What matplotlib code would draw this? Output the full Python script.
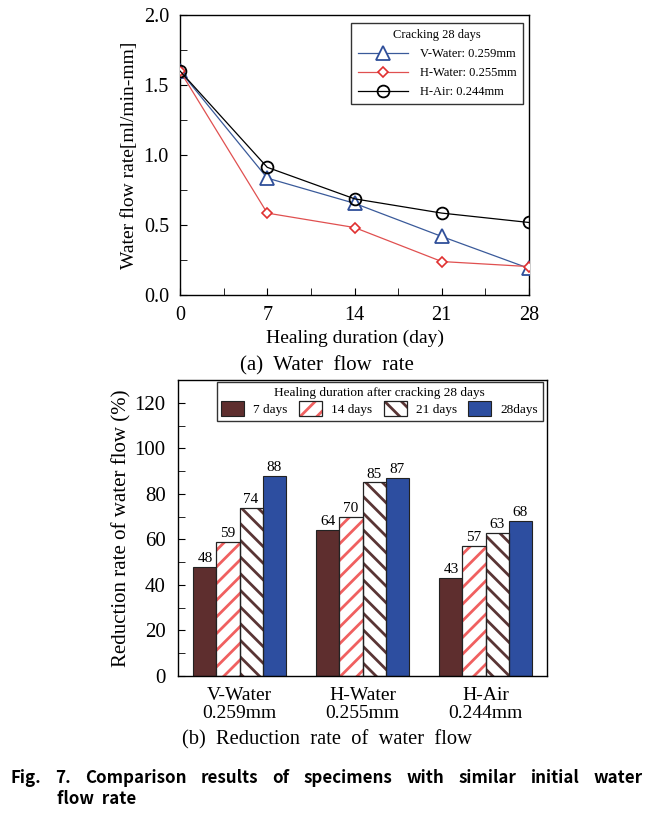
import matplotlib
matplotlib.use("Agg")
import matplotlib.pyplot as plt
import numpy as np
from matplotlib.legend_handler import HandlerTuple
from matplotlib.ticker import MultipleLocator

plt.rcParams['font.family'] = ['Liberation Serif', 'DejaVu Serif']
plt.rcParams['hatch.linewidth'] = 2.0

# ---- data (a) ----
days = [0, 7, 14, 21, 28]
v_water = [1.60, 0.835, 0.655, 0.418, 0.19]
h_water = [1.60, 0.585, 0.482, 0.239, 0.203]
h_air = [1.60, 0.912, 0.687, 0.585, 0.518]
line_labels = ["V-Water: 0.259mm", "H-Water: 0.255mm", "H-Air: 0.244mm"]

# ---- data (b) ----
groups = ["V-Water\n0.259mm", "H-Water\n0.255mm", "H-Air\n0.244mm"]
bar_labels = ["7 days", "14 days", "21 days", "28days"]
d7 = [48, 64, 43]
d14 = [59, 70, 57]
d21 = [74, 85, 63]
d28 = [88, 87, 68]

W, H = 665, 816
fig = plt.figure(figsize=(W/100, H/100), dpi=100)

def ax_rect(l, t, r, b):
    return [l/W, 1 - b/H, (r-l)/W, (b-t)/H]

# ---------- top chart ----------
ax1 = fig.add_axes(ax_rect(180, 15, 529, 295))
ax1.plot(days, v_water, color='#3a5a9a', lw=0.9, marker='^', ms=9.5, mfc='white',
         mec='#2f4f9a', mew=1.3, label=line_labels[0], zorder=3)
ax1.plot(days, h_water, color='#e05050', lw=0.9, marker='D', ms=5.5, mfc='white',
         mec='#e03030', mew=1.2, label=line_labels[1], zorder=4)
ax1.plot(days, h_air, color='black', lw=0.9, marker='o', ms=8.5, mfc='none',
         mec='black', mew=1.3, label=line_labels[2], zorder=5)
ax1.set_xlim(0, 28)
ax1.set_ylim(0, 2.0)
ax1.set_xticks(days)
ax1.set_yticks([0, 0.5, 1.0, 1.5, 2.0])
ax1.set_yticklabels(["0.0", "0.5", "1.0", "1.5", "2.0"])
ax1.xaxis.set_minor_locator(MultipleLocator(3.5))
ax1.yaxis.set_minor_locator(MultipleLocator(0.25))
ax1.tick_params(which='both', direction='in', top=False, right=False, labelsize=14.5, length=5)
ax1.tick_params(axis='y', which='both', pad=8)
ax1.tick_params(axis='x', which='both', pad=8)
for s in ax1.spines.values():
    s.set_linewidth(1.0)
ax1.set_xlabel("Healing duration (day)", fontsize=14, labelpad=3)
ax1.set_ylabel("Water flow rate[ml/min-mm]", fontsize=14, labelpad=4)
leg1 = ax1.legend(title="Cracking 28 days", loc='upper right', bbox_to_anchor=(0.983, 0.971),
                  borderaxespad=0, fontsize=9, title_fontsize=9, frameon=True, fancybox=False,
                  edgecolor='black', handlelength=4.0, borderpad=0.5, labelspacing=0.55,
                  handletextpad=1.0)
leg1.get_frame().set_linewidth(1.0)
fig.text(327/W, 1 - 366/H, "(a)  Water  flow  rate", ha='center', va='center', fontsize=15)

# ---------- bottom chart ----------
ax2 = fig.add_axes(ax_rect(178, 380, 547, 676))
x = np.arange(len(groups))
bw = 0.1875
offs = [-1.5*bw, -0.5*bw, 0.5*bw, 1.5*bw]
edge = '#222222'
b7 = ax2.bar(x + offs[0], d7, bw, color='#5e2e2e', edgecolor=edge, lw=0.8, zorder=2)
h14 = ax2.bar(x + offs[1], d14, bw, color='white', edgecolor='#f06060', hatch='//', lw=0, zorder=2)
o14 = ax2.bar(x + offs[1], d14, bw, fill=False, edgecolor=edge, lw=0.9, zorder=3)
h21 = ax2.bar(x + offs[2], d21, bw, color='white', edgecolor='#5a3535', hatch='\\\\', lw=0, zorder=2)
o21 = ax2.bar(x + offs[2], d21, bw, fill=False, edgecolor=edge, lw=0.9, zorder=3)
b28 = ax2.bar(x + offs[3], d28, bw, color='#2d4ea0', edgecolor=edge, lw=0.8, zorder=2)
for vals, off in zip([d7, d14, d21, d28], offs):
    for xi, v in zip(x, vals):
        ax2.text(xi + off, v + 0.8, f"{v}", ha='center', va='bottom', fontsize=11)
ax2.set_xlim(-0.5, 2.5)
ax2.set_ylim(0, 130)
ax2.set_xticks(x)
ax2.set_xticklabels(groups, fontsize=14, linespacing=1.1)
ax2.set_yticks(np.arange(0, 121, 20))
ax2.yaxis.set_minor_locator(MultipleLocator(10))
ax2.tick_params(axis='x', length=0, pad=8)
ax2.tick_params(axis='y', which='both', direction='in', right=False, labelsize=15, length=5, pad=9)
for s in ax2.spines.values():
    s.set_linewidth(1.0)
ax2.set_ylabel("Reduction rate of water flow (%)", fontsize=15, labelpad=2)
hl = [b7[0], (h14[0], o14[0]), (h21[0], o21[0]), b28[0]]
leg2 = ax2.legend(hl, bar_labels, title="Healing duration after cracking 28 days", ncol=4,
                  loc='upper right', bbox_to_anchor=(0.989, 0.993), borderaxespad=0,
                  fontsize=9.5, title_fontsize=9.5, frameon=True, fancybox=False, edgecolor='black',
                  handler_map={tuple: HandlerTuple(ndivide=1, pad=0)},
                  handlelength=1.75, handleheight=1.3, columnspacing=0.85, borderpad=0.35,
                  handletextpad=0.7, labelspacing=0.2)
leg2.get_frame().set_linewidth(1.0)
fig.text(327/W, 1 - 740/H, "(b)  Reduction  rate  of  water  flow", ha='center', va='center', fontsize=14.8)

# ---------- figure caption (justified) ----------
cap_font = dict(fontsize=12.2, fontweight='bold', family=['Noto Sans CJK KR', 'DejaVu Sans'])
line1 = ["Fig.", "7.", "Comparison", "results", "of", "specimens", "with", "similar", "initial", "water"]
fig.canvas.draw()
r = fig.canvas.get_renderer()
texts = [fig.text(0, 1 - 783/H, w, va='baseline', ha='left', **cap_font) for w in line1]
widths = [t.get_window_extent(r).width for t in texts]
x0, x1 = 10, 643
gap = (x1 - x0 - sum(widths)) / (len(widths) - 1)
cx = x0
for t, w in zip(texts, widths):
    t.set_x(cx / W)
    cx += w + gap
fig.text(57/W, 1 - 804/H, "flow  rate", va='baseline', ha='left', **cap_font)

fig.savefig("out.png", dpi=100)
